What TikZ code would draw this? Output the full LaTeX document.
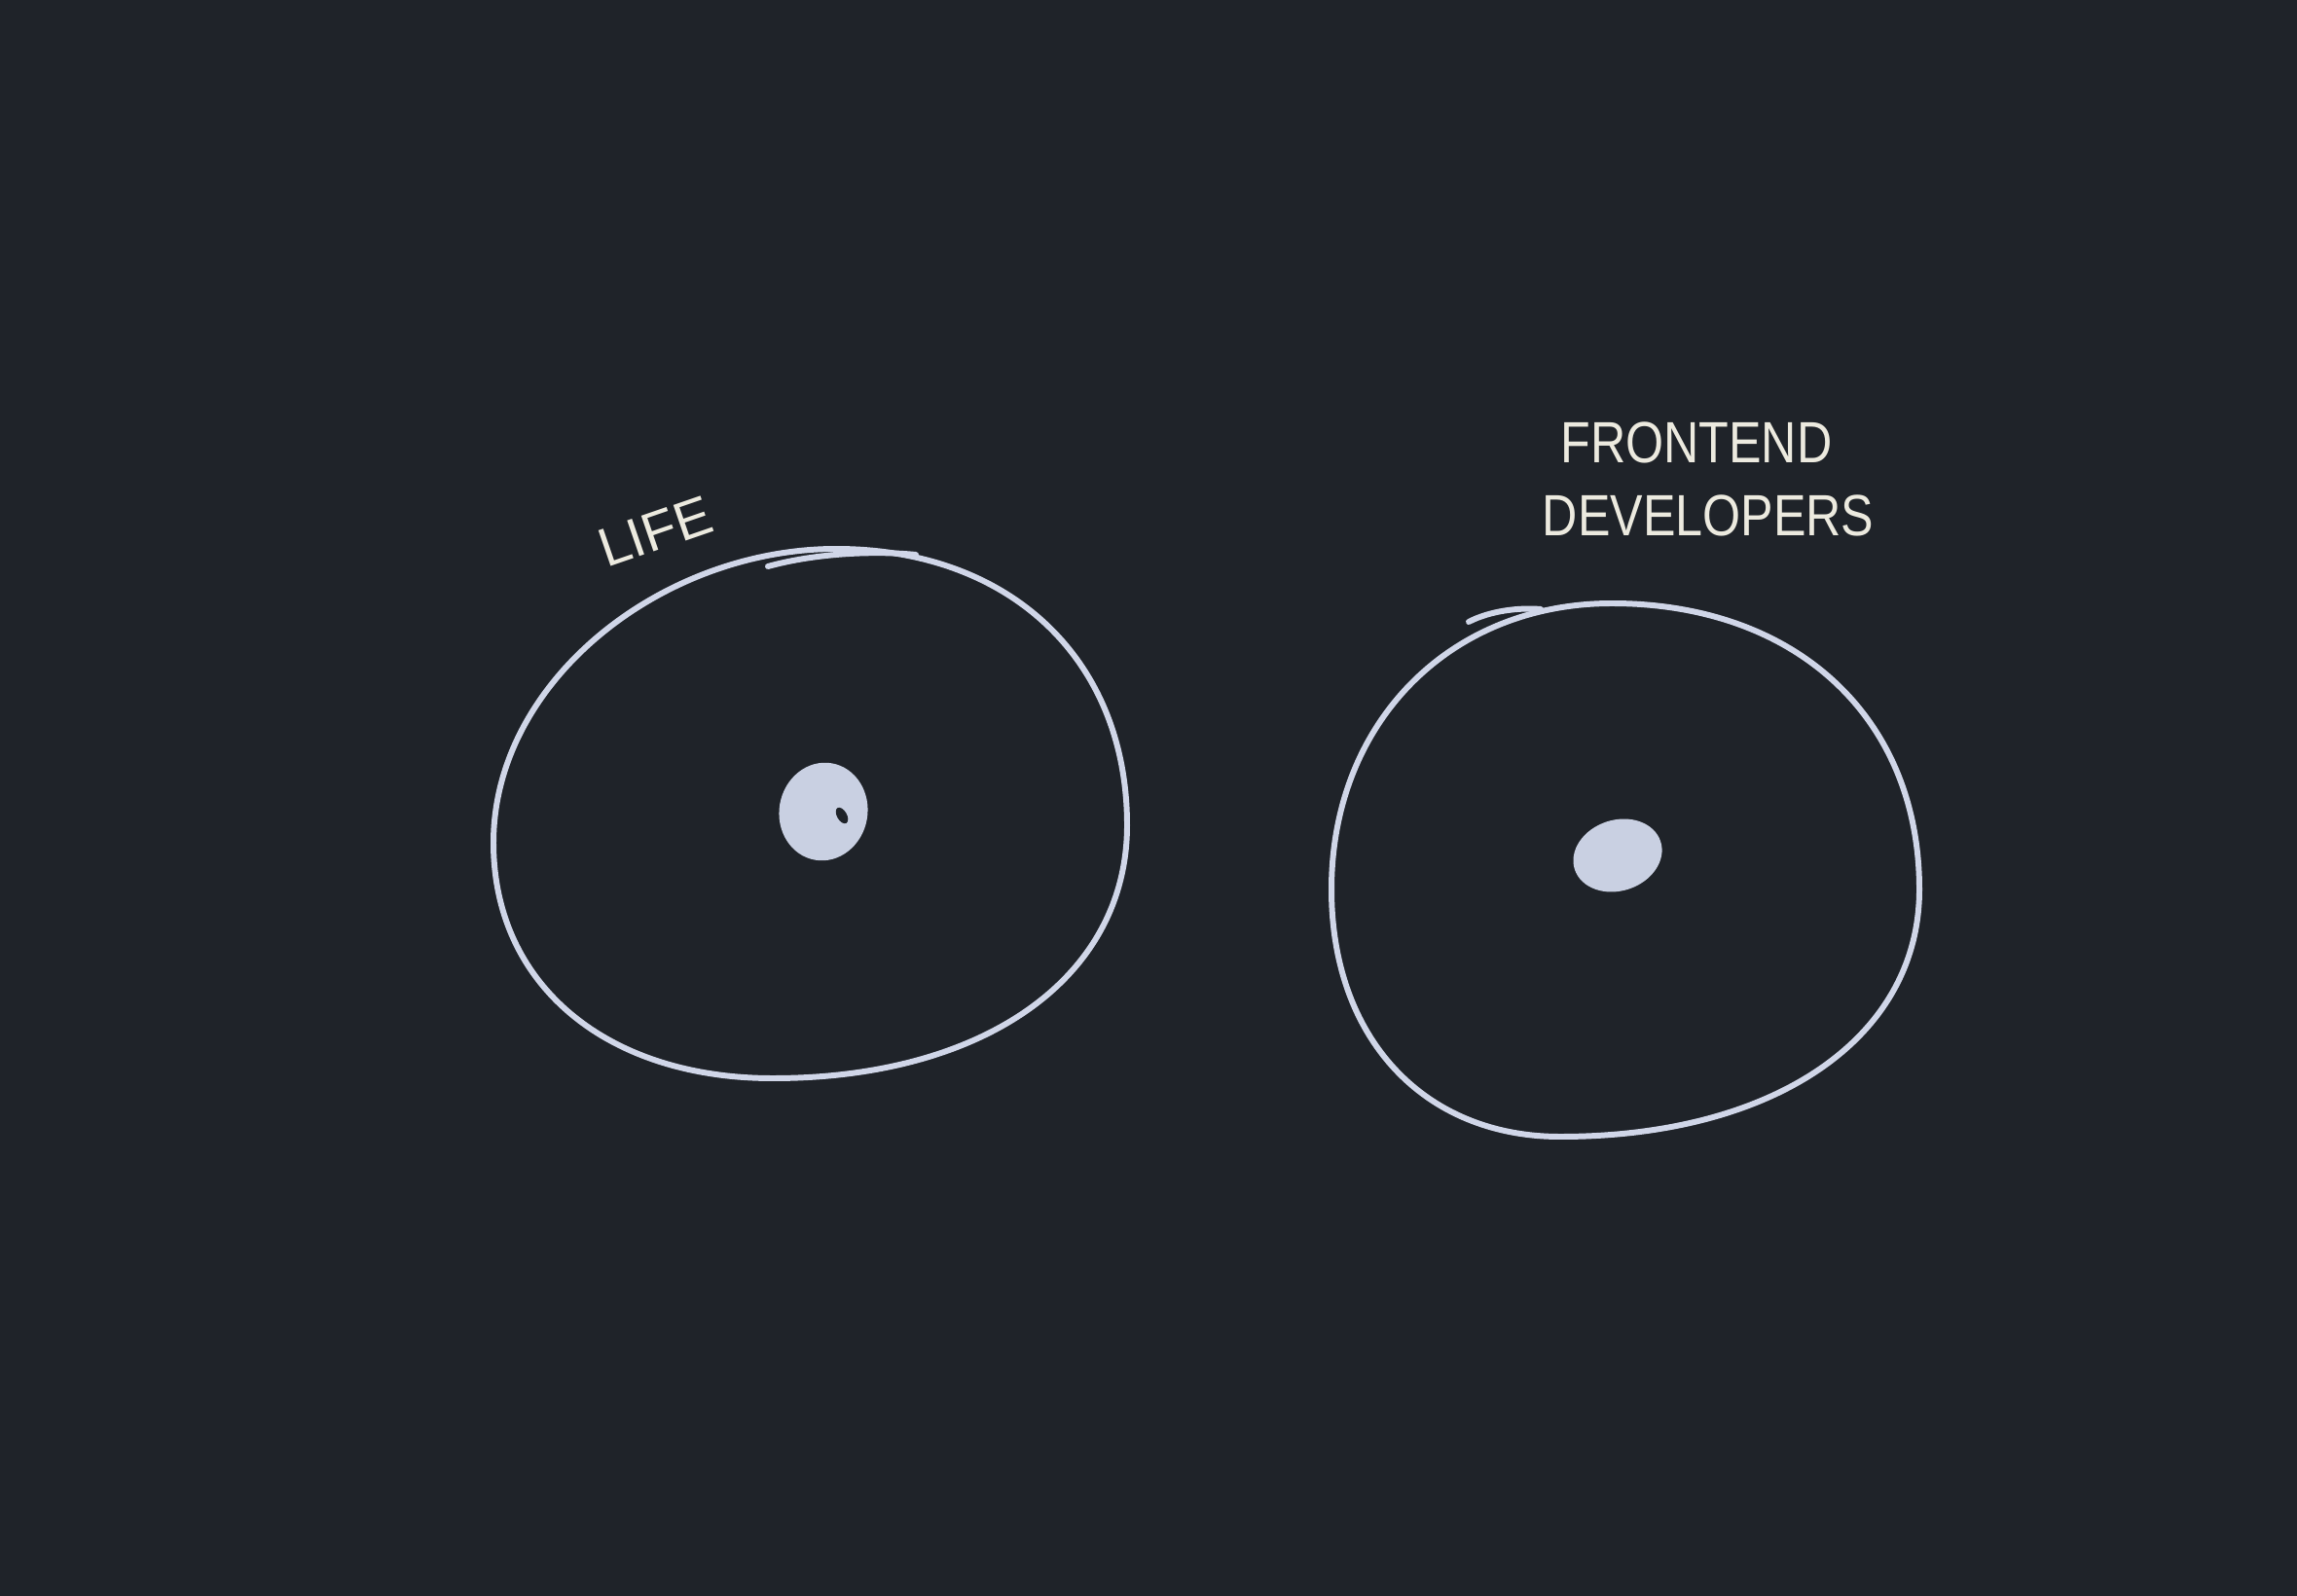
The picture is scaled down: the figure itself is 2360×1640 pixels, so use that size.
\documentclass[tikz,border=0pt]{standalone}
\usepackage{fontspec}
\setmainfont{Liberation Sans}
\definecolor{board}{HTML}{1F2329}
\definecolor{chalk}{HTML}{D0D6E8}
\definecolor{blobfill}{HTML}{C9D0E2}
\definecolor{cream}{HTML}{ECEADF}
\begin{document}
\begin{tikzpicture}[
  x=0.01cm, y=-0.01cm,
  ring/.style={draw=chalk, line width=1.7pt, line cap=round, line join=round},
  blob/.style={fill=blobfill, draw=blobfill, line width=0.8pt},
  label/.style={text=cream, font=\fontsize{17}{20}\selectfont, inner sep=0pt, xscale=0.84},
  tilted/.style={text=cream, font=\fontsize{16}{19}\selectfont, inner sep=0pt, rotate=19}
]
\fill[board] (0,0) rectangle (2360,1640);
\useasboundingbox (0,0) rectangle (2360,1640);

% left circle
\draw[ring] (507,866) .. controls (507,700) and (680,564) .. (859,564)
  .. controls (1038,564) and (1158,678) .. (1158,848)
  .. controls (1158,1004) and (1012,1108) .. (794,1108)
  .. controls (622,1108) and (507,1011) .. cycle;
\draw[ring] (789,582) .. controls (840,568) and (900,566) .. (941,570);
\fill[blob, rotate around={-10:(846,834)}] (846,834) ellipse (44 and 49);
\fill[board, rotate around={30:(865,838)}] (865,838) ellipse (5 and 9);
\node[tilted] (life) at (673,546) {LIFE};

% right circle
\draw[ring] (1368,914) .. controls (1368,743) and (1489,620) .. (1656,620)
  .. controls (1846,620) and (1972,738) .. (1972,914)
  .. controls (1972,1066) and (1824,1168) .. (1603,1168)
  .. controls (1462,1168) and (1368,1066) .. cycle;
\draw[ring] (1509,639) .. controls (1530,628) and (1560,624) .. (1583,626);
\fill[blob, rotate around={18:(1662,879)}] (1662,879) ellipse (45 and 35);
\node[label] (front) at (1743,455) {FRONTEND};
\node[label] (devs) at (1755,530) {DEVELOPERS};
\end{tikzpicture}
\end{document}
